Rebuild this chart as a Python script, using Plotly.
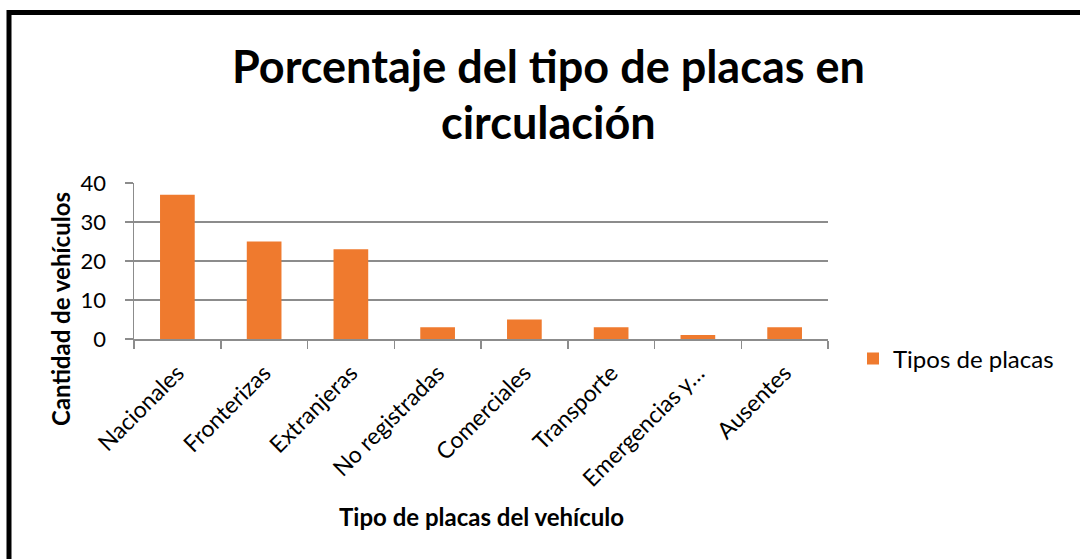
import plotly.graph_objects as go

categories = ["Nacionales", "Fronterizas", "Extranjeras", "No registradas",
              "Comerciales", "Transporte", "Emergencias y…", "Ausentes"]
values = [37, 25, 23, 3, 5, 3, 1, 3]
series_name = "Tipos de placas"
y_ticks = [0, 10, 20, 30, 40]

W, H = 1080, 559
L, R, T, B = 134, 252, 183, 220
pw, ph = W - L - R, H - T - B

def px(x):
    return (x - L) / pw

def py(y):
    return (H - B - y) / ph

FONT = "Lato"

fig = go.Figure()
fig.add_trace(go.Bar(
    x=categories, y=values, name=series_name,
    marker=dict(color="#EF7A2E", line=dict(width=0)),
    showlegend=True,
))

fig.update_layout(
    width=W, height=H,
    margin=dict(l=L, r=R, t=T, b=B, autoexpand=False),
    paper_bgcolor="white", plot_bgcolor="white",
    bargap=0.6,
    font=dict(family=FONT, color="#000000"),
    showlegend=True,
    legend=dict(x=px(853), y=py(359), xanchor="left", yanchor="middle",
                font=dict(size=24, family=FONT), bgcolor="rgba(0,0,0,0)",
                itemsizing="constant"),
    xaxis=dict(
        tickangle=-45, tickfont=dict(size=23, family=FONT),
        showline=True, linecolor="#8c8c8c", linewidth=1.5,
        ticks="outside", ticklen=8, tickcolor="#8c8c8c", tickwidth=1.5,
        tickson="boundaries", showgrid=False, fixedrange=True,
        ticklabelstandoff=10,
    ),
    yaxis=dict(
        range=[0, 40], tickvals=y_ticks, tickfont=dict(size=22, family=FONT),
        showline=True, linecolor="#8c8c8c", linewidth=1.5,
        ticks="outside", ticklen=8, tickcolor="#8c8c8c", tickwidth=1.5,
        showgrid=True, gridcolor="#8c8c8c", gridwidth=1.5,
        zeroline=False, ticklabelstandoff=14, fixedrange=True,
    ),
    annotations=[
        dict(text="<b>Porcentaje del tipo de placas en</b>", x=px(548), y=py(66),
             xref="paper", yref="paper", showarrow=False, xanchor="center", yanchor="middle",
             font=dict(size=45, family=FONT)),
        dict(text="<b>circulación</b>", x=px(548), y=py(122),
             xref="paper", yref="paper", showarrow=False, xanchor="center", yanchor="middle",
             font=dict(size=45, family=FONT)),
        dict(text="<b>Cantidad de vehículos</b>", x=px(60), y=py(309),
             xref="paper", yref="paper", showarrow=False, xanchor="center", yanchor="middle",
             textangle=-90, font=dict(size=24, family=FONT)),
        dict(text="<b>Tipo de placas del vehículo</b>", x=px(481), y=py(516),
             xref="paper", yref="paper", showarrow=False, xanchor="center", yanchor="middle",
             font=dict(size=24, family=FONT)),
    ],
    shapes=[
        dict(type="rect", xref="paper", yref="paper",
             x0=px(9), x1=px(1100), y0=py(600), y1=py(12.5),
             line=dict(color="black", width=5), fillcolor="rgba(0,0,0,0)", layer="above"),
    ],
)

fig.write_html("out.html", config={"displayModeBar": False, "staticPlot": True},
               post_script="document.body.style.margin='0';")
